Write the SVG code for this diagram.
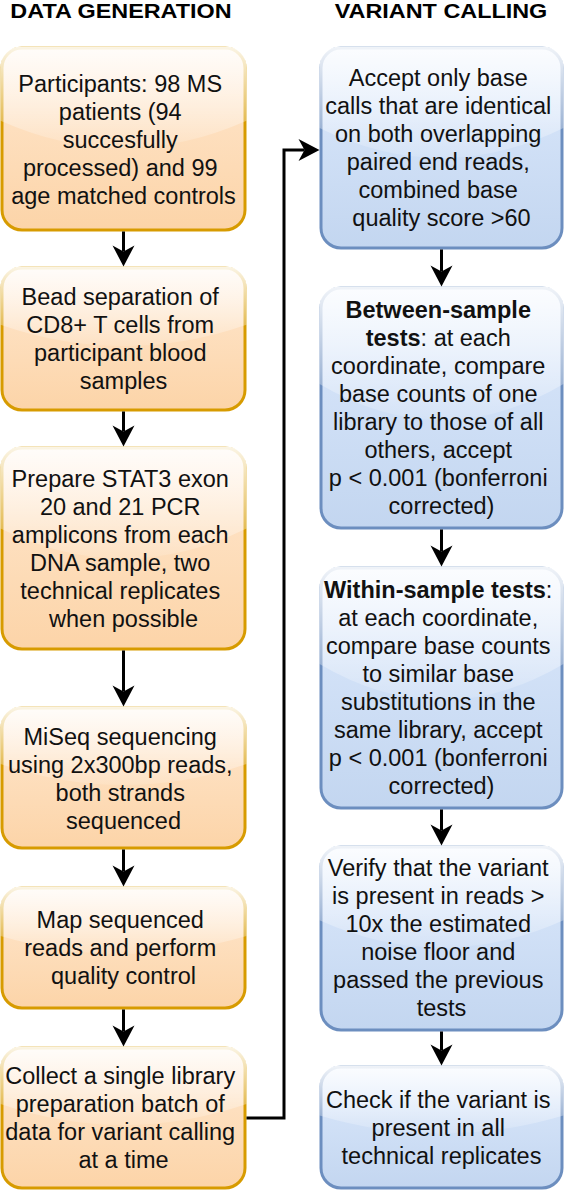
<svg xmlns="http://www.w3.org/2000/svg" width="564" height="1191" viewBox="0 0 564 1191">
<style>
.bg{fill:#ffffff}
.or{fill:url(#gOr);stroke:#d79b00;stroke-width:3}
.bl{fill:url(#gBl);stroke:#6c8ebf;stroke-width:3}
.gl{fill:url(#gGl);stroke:none}
.t{font-family:"Liberation Sans",Arial,Helvetica,sans-serif;font-size:23.5px;fill:#111111;text-anchor:middle}
.h{font-family:"Liberation Sans",Arial,Helvetica,sans-serif;font-size:20px;font-weight:bold;fill:#000000;text-anchor:middle}
.b{font-weight:bold}
.c{fill:none;stroke:#000000;stroke-width:3}
</style>
<defs>
<linearGradient id="gOr" x1="0" y1="0" x2="0" y2="1">
<stop offset="0" stop-color="#ffe8d0"/>
<stop offset="1" stop-color="#fcd4a8"/>
</linearGradient>
<linearGradient id="gBl" x1="0" y1="0" x2="0" y2="1">
<stop offset="0" stop-color="#dce9fc"/>
<stop offset="1" stop-color="#c3d6f0"/>
</linearGradient>
<linearGradient id="gGl" x1="0" y1="0" x2="0" y2="1">
<stop offset="0" stop-color="#ffffff" stop-opacity="0.9"/>
<stop offset="1" stop-color="#ffffff" stop-opacity="0.12"/>
</linearGradient>
<marker id="ah" markerUnits="userSpaceOnUse" markerWidth="40" markerHeight="40" viewBox="-20 -20 40 40" refX="0" refY="0" orient="auto" overflow="visible">
<path d="M15,0 L-6,-11 L0,0 L-6,11 Z" fill="#000000"/>
</marker>
</defs>
<rect class="bg" x="0" y="0" width="564" height="1191"/>

<g id="header-left" transform="translate(121,0) scale(1.17,1)"><text class="h" x="0" y="18.5">DATA GENERATION</text></g>
<g id="header-right" transform="translate(441,0) scale(1.17,1)"><text class="h" x="0" y="18.5">VARIANT CALLING</text></g>

<g id="n1">
<rect class="or" x="2" y="48" width="243" height="182" rx="20" ry="20"/>
<path class="gl" d="M22.5 46.5 Q0.5 46.5 0.5 68.5 L0.5 120.8 Q123.5 175.4 246.5 120.8 L246.5 68.5 Q246.5 46.5 224.5 46.5 Z"/>
<text class="t">
<tspan x="123.5" y="92">Participants: 98 MS</tspan>
<tspan x="123.5" y="120">patients (94</tspan>
<tspan x="123.5" y="148">succesfully</tspan>
<tspan x="123.5" y="176">processed) and 99</tspan>
<tspan x="123.5" y="204">age matched controls</tspan>
</text>
</g>

<g id="n2">
<rect class="or" x="2" y="268" width="243" height="142" rx="20" ry="20"/>
<path class="gl" d="M22.5 266.5 Q0.5 266.5 0.5 288.5 L0.5 324.8 Q123.5 367.4 246.5 324.8 L246.5 288.5 Q246.5 266.5 224.5 266.5 Z"/>
<text class="t">
<tspan x="123.5" y="305">Bead separation of</tspan>
<tspan x="123.5" y="333">CD8+ T cells from</tspan>
<tspan x="123.5" y="361">participant blood</tspan>
<tspan x="123.5" y="389">samples</tspan>
</text>
</g>

<g id="n3">
<rect class="or" x="2" y="448" width="243" height="201" rx="20" ry="20"/>
<path class="gl" d="M22.5 446.5 Q0.5 446.5 0.5 468.5 L0.5 528.4 Q123.5 588.7 246.5 528.4 L246.5 468.5 Q246.5 446.5 224.5 446.5 Z"/>
<text class="t">
<tspan x="123.5" y="487">Prepare STAT3 exon</tspan>
<tspan x="123.5" y="515">20 and 21 PCR</tspan>
<tspan x="123.5" y="543">amplicons from each</tspan>
<tspan x="123.5" y="571">DNA sample, two</tspan>
<tspan x="123.5" y="599">technical replicates</tspan>
<tspan x="123.5" y="627">when possible</tspan>
</text>
</g>

<g id="n4">
<rect class="or" x="2" y="708" width="243" height="140" rx="20" ry="20"/>
<path class="gl" d="M22.5 706.5 Q0.5 706.5 0.5 728.5 L0.5 764 Q123.5 806 246.5 764 L246.5 728.5 Q246.5 706.5 224.5 706.5 Z"/>
<text class="t">
<tspan x="123.5" y="745">MiSeq sequencing</tspan>
<tspan x="123.5" y="773">using 2x300bp reads,</tspan>
<tspan x="123.5" y="801">both strands</tspan>
<tspan x="123.5" y="829">sequenced</tspan>
</text>
</g>

<g id="n5">
<rect class="or" x="2" y="888" width="243" height="120" rx="20" ry="20"/>
<path class="gl" d="M22.5 886.5 Q0.5 886.5 0.5 908.5 L0.5 936 Q123.5 972 246.5 936 L246.5 908.5 Q246.5 886.5 224.5 886.5 Z"/>
<text class="t">
<tspan x="123.5" y="928">Map sequenced</tspan>
<tspan x="123.5" y="956">reads and perform</tspan>
<tspan x="123.5" y="984">quality control</tspan>
</text>
</g>

<g id="n6">
<rect class="or" x="2" y="1048" width="243" height="140" rx="20" ry="20"/>
<path class="gl" d="M22.5 1046.5 Q0.5 1046.5 0.5 1068.5 L0.5 1104 Q123.5 1146 246.5 1104 L246.5 1068.5 Q246.5 1046.5 224.5 1046.5 Z"/>
<text class="t">
<tspan x="123.5" y="1084">Collect a single library</tspan>
<tspan x="123.5" y="1112">preparation batch of</tspan>
<tspan x="123.5" y="1140">data for variant calling</tspan>
<tspan x="123.5" y="1168">at a time</tspan>
</text>
</g>

<g id="r1">
<rect class="bl" x="321" y="48" width="241" height="200" rx="20" ry="20"/>
<path class="gl" d="M341.5 46.5 Q319.5 46.5 319.5 68.5 L319.5 128 Q441.5 188 563.5 128 L563.5 68.5 Q563.5 46.5 541.5 46.5 Z"/>
<text class="t">
<tspan x="441.5" y="86">Accept only base</tspan>
<tspan x="441.5" y="114">calls that are identical</tspan>
<tspan x="441.5" y="142">on both overlapping</tspan>
<tspan x="441.5" y="170">paired end reads,</tspan>
<tspan x="441.5" y="198">combined base</tspan>
<tspan x="441.5" y="226">quality score &gt;60</tspan>
</text>
</g>

<g id="r2">
<rect class="bl" x="321" y="288" width="241" height="240" rx="20" ry="20"/>
<path class="gl" d="M341.5 286.5 Q319.5 286.5 319.5 308.5 L319.5 384 Q441.5 456 563.5 384 L563.5 308.5 Q563.5 286.5 541.5 286.5 Z"/>
<text class="t">
<tspan x="441.5" y="318" class="b">Between-sample</tspan>
<tspan x="441.5" y="346"><tspan class="b">tests</tspan>: at each</tspan>
<tspan x="441.5" y="374">coordinate, compare</tspan>
<tspan x="441.5" y="402">base counts of one</tspan>
<tspan x="441.5" y="430">library to those of all</tspan>
<tspan x="441.5" y="458">others, accept</tspan>
<tspan x="441.5" y="486">p &lt; 0.001 (bonferroni</tspan>
<tspan x="441.5" y="514">corrected)</tspan>
</text>
</g>

<g id="r3">
<rect class="bl" x="321" y="568" width="241" height="240" rx="20" ry="20"/>
<path class="gl" d="M341.5 566.5 Q319.5 566.5 319.5 588.5 L319.5 664 Q441.5 736 563.5 664 L563.5 588.5 Q563.5 566.5 541.5 566.5 Z"/>
<text class="t">
<tspan x="441.5" y="598"><tspan class="b">Within-sample tests</tspan>:</tspan>
<tspan x="441.5" y="626">at each coordinate,</tspan>
<tspan x="441.5" y="654">compare base counts</tspan>
<tspan x="441.5" y="682">to similar base</tspan>
<tspan x="441.5" y="710">substitutions in the</tspan>
<tspan x="441.5" y="738">same library, accept</tspan>
<tspan x="441.5" y="766">p &lt; 0.001 (bonferroni</tspan>
<tspan x="441.5" y="794">corrected)</tspan>
</text>
</g>

<g id="r4">
<rect class="bl" x="321" y="847" width="241" height="183" rx="20" ry="20"/>
<path class="gl" d="M341.5 845.5 Q319.5 845.5 319.5 867.5 L319.5 920.2 Q441.5 975.1 563.5 920.2 L563.5 867.5 Q563.5 845.5 541.5 845.5 Z"/>
<text class="t">
<tspan x="441.5" y="876">Verify that the variant</tspan>
<tspan x="441.5" y="904">is present in reads &gt;</tspan>
<tspan x="441.5" y="932">10x the estimated</tspan>
<tspan x="441.5" y="960">noise floor and</tspan>
<tspan x="441.5" y="988">passed the previous</tspan>
<tspan x="441.5" y="1016">tests</tspan>
</text>
</g>

<g id="r5">
<rect class="bl" x="321" y="1067" width="241" height="121" rx="20" ry="20"/>
<path class="gl" d="M341.5 1065.5 Q319.5 1065.5 319.5 1087.5 L319.5 1115.4 Q441.5 1151.7 563.5 1115.4 L563.5 1087.5 Q563.5 1065.5 541.5 1065.5 Z"/>
<text class="t">
<tspan x="441.5" y="1108">Check if the variant is</tspan>
<tspan x="441.5" y="1136">present in all</tspan>
<tspan x="441.5" y="1164">technical replicates</tspan>
</text>
</g>

<g id="connectors">
<path class="c" marker-end="url(#ah)" d="M123.5 231.5 V251.5"/>
<path class="c" marker-end="url(#ah)" d="M123.5 411.5 V431.5"/>
<path class="c" marker-end="url(#ah)" d="M123.5 650.5 V691.5"/>
<path class="c" marker-end="url(#ah)" d="M123.5 849.5 V871.5"/>
<path class="c" marker-end="url(#ah)" d="M123.5 1009.5 V1031.5"/>
<path class="c" marker-end="url(#ah)" d="M441.5 249.5 V271.5"/>
<path class="c" marker-end="url(#ah)" d="M441.5 529.5 V551.5"/>
<path class="c" marker-end="url(#ah)" d="M441.5 809.5 V830.5"/>
<path class="c" marker-end="url(#ah)" d="M441.5 1031.5 V1050.5"/>
<path class="c" marker-end="url(#ah)" d="M246.5 1118 H284 V150 H304.5"/>
</g>
</svg>
